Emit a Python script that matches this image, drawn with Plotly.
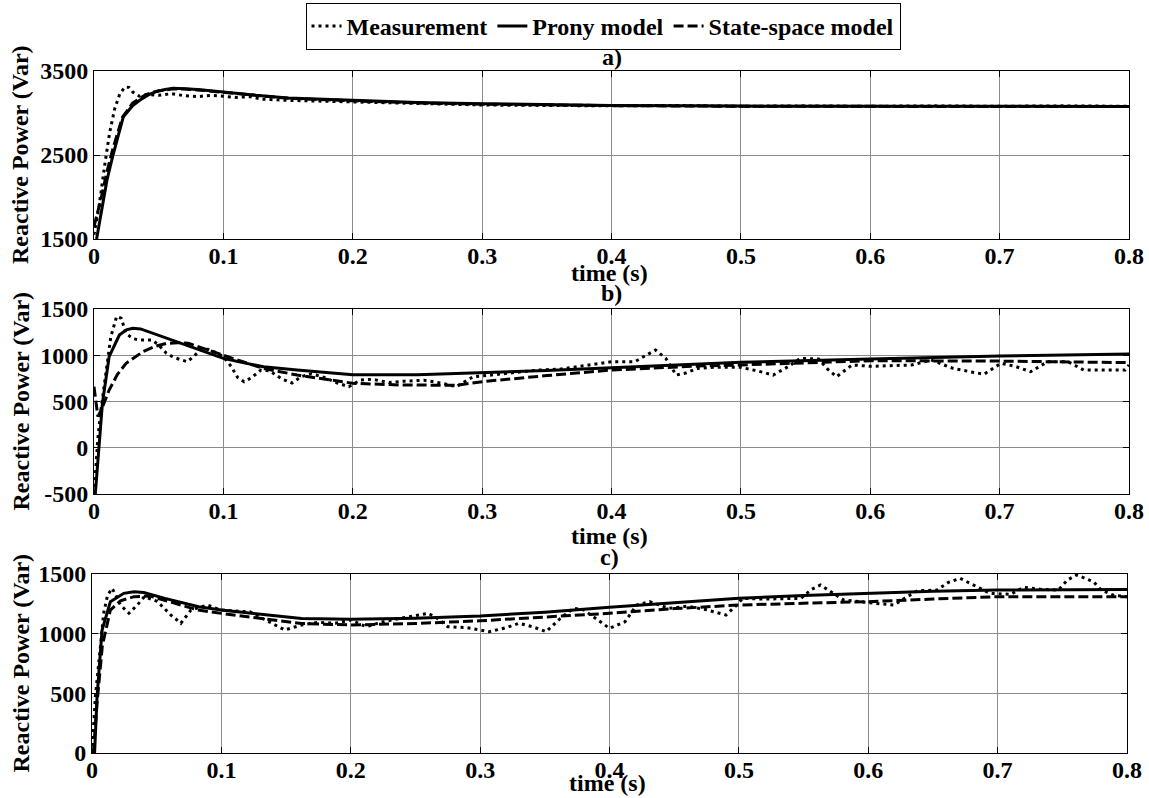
import plotly.graph_objects as go

# ---------------- panel a) ----------------
t_a_meas = [0, 0.004, 0.008, 0.012, 0.016, 0.02, 0.024, 0.027, 0.030, 0.035, 0.042, 0.05,
            0.06, 0.07, 0.08, 0.09, 0.1, 0.11, 0.12, 0.13, 0.15, 0.175, 0.2, 0.25, 0.3,
            0.35, 0.4, 0.45, 0.5, 0.55, 0.6, 0.65, 0.7, 0.75, 0.8]
q_a_meas = [1550, 1900, 2350, 2760, 3050, 3230, 3310, 3305, 3250, 3200, 3220, 3210,
            3230, 3205, 3195, 3210, 3200, 3185, 3195, 3165, 3150, 3140, 3130, 3110, 3095,
            3090, 3085, 3090, 3080, 3085, 3080, 3085, 3080, 3085, 3080]

t_a_prony = [0.002, 0.006, 0.010, 0.0147, 0.0227, 0.03, 0.0356, 0.042, 0.048, 0.055, 0.0613,
             0.07, 0.08, 0.1, 0.125, 0.15, 0.2, 0.25, 0.3, 0.4, 0.5, 0.6, 0.7, 0.8]
q_a_prony = [1500, 1850, 2200, 2500, 2956, 3090, 3155, 3215, 3254, 3280, 3294,
             3290, 3280, 3250, 3210, 3180, 3150, 3125, 3110, 3090, 3082, 3080, 3078, 3078]

t_a_ss = [0, 0.005, 0.01, 0.0147, 0.022, 0.03, 0.04, 0.05, 0.06, 0.07, 0.08, 0.1, 0.125,
          0.15, 0.2, 0.25, 0.3, 0.4, 0.5, 0.6, 0.7, 0.8]
q_a_ss = [1650, 1950, 2300, 2580, 2950, 3120, 3220, 3265, 3285, 3285, 3275, 3245, 3205,
          3175, 3145, 3120, 3105, 3088, 3080, 3078, 3077, 3077]

# ---------------- panel b) ----------------
t_b_meas = [0, 0.003, 0.005, 0.009, 0.013, 0.0175, 0.021, 0.0248, 0.03, 0.0352, 0.045, 0.05,
            0.056, 0.062, 0.069, 0.072, 0.077, 0.082, 0.088, 0.094, 0.1, 0.106, 0.111, 0.116,
            0.122, 0.129, 0.136, 0.145, 0.153, 0.16, 0.168, 0.178, 0.188, 0.197, 0.206, 0.215,
            0.228, 0.24, 0.255, 0.268, 0.28, 0.293, 0.31, 0.325, 0.343, 0.36, 0.38, 0.4, 0.418,
            0.427, 0.434, 0.442, 0.45, 0.458, 0.466, 0.48, 0.5, 0.513, 0.525, 0.537, 0.546,
            0.56, 0.567, 0.574, 0.586, 0.601, 0.632, 0.647, 0.664, 0.678, 0.688, 0.701, 0.712,
            0.724, 0.737, 0.753, 0.765, 0.78, 0.797, 0.8]
q_b_meas = [-500, 100, 372, 800, 1200, 1420, 1400, 1237, 1180, 1165, 1165, 1110,
            1021, 975, 949, 930, 985, 1057, 1065, 1030, 984, 880, 760, 714,
            760, 840, 830, 745, 700, 768, 800, 760, 700, 660, 732, 740,
            705, 720, 730, 700, 660, 768, 790, 810, 840, 850, 890, 930, 930,
            1000, 1057, 966, 786, 810, 858, 870, 869, 830, 786, 880, 967,
            960, 850, 768, 895, 880, 895, 949, 858, 820, 795, 913, 880,
            822, 930, 930, 840, 840, 840, 895]

t_b_prony = [0.001, 0.0065, 0.0117, 0.0196, 0.025, 0.030, 0.036, 0.045, 0.056, 0.07, 0.082,
             0.1, 0.115, 0.131, 0.157, 0.2, 0.25, 0.3, 0.35, 0.4, 0.466, 0.5, 0.6, 0.7, 0.8]
q_b_prony = [-500, 480, 984, 1219, 1275, 1291, 1285, 1240, 1183, 1115, 1057,
             967, 920, 876, 840, 790, 790, 811, 835, 866, 904, 923, 959, 992, 1013]

t_b_ss = [0, 0.003, 0.006, 0.0117, 0.018, 0.0248, 0.0378, 0.048, 0.056, 0.065, 0.073, 0.085,
          0.1, 0.115, 0.131, 0.157, 0.2, 0.236, 0.28, 0.3, 0.35, 0.4, 0.466, 0.5, 0.6, 0.7, 0.8]
q_b_ss = [660, 336, 420, 624, 790, 913, 1038, 1100, 1129, 1135, 1129, 1070,
          1003, 930, 858, 786, 697, 679, 675, 714, 780, 840, 883, 895, 941, 937, 920]

# ---------------- panel c) ----------------
t_c_meas = [0, 0.0026, 0.0065, 0.009, 0.012, 0.0155, 0.019, 0.022, 0.0285, 0.035, 0.0405,
            0.0505, 0.056, 0.061, 0.0687, 0.0765, 0.089, 0.1, 0.11, 0.122, 0.135, 0.149,
            0.162, 0.175, 0.188, 0.2, 0.212, 0.225, 0.238, 0.26, 0.268, 0.275, 0.29, 0.307,
            0.32, 0.33, 0.34, 0.351, 0.362, 0.372, 0.38, 0.39, 0.4, 0.412, 0.421, 0.431,
            0.446, 0.46, 0.475, 0.49, 0.497, 0.503, 0.52, 0.548, 0.556, 0.563, 0.571, 0.581,
            0.6, 0.62, 0.628, 0.638, 0.653, 0.662, 0.671, 0.684, 0.694, 0.71, 0.72, 0.735,
            0.747, 0.754, 0.761, 0.774, 0.78, 0.79, 0.8]
q_c_meas = [0, 472, 891, 1171, 1320, 1380, 1310, 1240, 1171, 1240, 1310,
            1270, 1210, 1156, 1087, 1198, 1240, 1198, 1190, 1184, 1110, 1031,
            1073, 1095, 1087, 1115, 1058, 1100, 1128, 1171, 1120, 1058, 1050, 1017,
            1050, 1087, 1060, 1017, 1128, 1212, 1200, 1120, 1045, 1100, 1240, 1268,
            1212, 1230, 1200, 1156, 1226, 1296, 1290, 1296, 1370, 1408, 1352, 1282,
            1260, 1240, 1296, 1360, 1365, 1430, 1464, 1394, 1338, 1330, 1388, 1370,
            1366, 1450, 1492, 1436, 1366, 1320, 1310]

t_c_prony = [0.002, 0.0039, 0.0078, 0.0142, 0.0246, 0.0324, 0.04, 0.0564, 0.0824, 0.1, 0.136,
             0.162, 0.2, 0.25, 0.3, 0.35, 0.4, 0.45, 0.5, 0.55, 0.6, 0.65, 0.7, 0.75, 0.8]
q_c_prony = [0, 472, 1031, 1268, 1338, 1352, 1345, 1296, 1226, 1198, 1156,
             1128, 1120, 1130, 1148, 1180, 1221, 1260, 1296, 1320, 1338, 1355, 1366, 1370, 1371]

t_c_ss = [0.001, 0.004, 0.008, 0.0142, 0.022, 0.0324, 0.045, 0.06, 0.082, 0.1, 0.13, 0.162,
          0.2, 0.25, 0.3, 0.35, 0.4, 0.45, 0.5, 0.55, 0.6, 0.65, 0.7, 0.75, 0.8]
q_c_ss = [0, 430, 900, 1198, 1275, 1310, 1315, 1270, 1198, 1170, 1130, 1085,
          1073, 1085, 1108, 1140, 1171, 1210, 1240, 1255, 1268, 1290, 1310, 1310, 1310]

x_ticks = [0, 0.1, 0.2, 0.3, 0.4, 0.5, 0.6, 0.7, 0.8]
x_tick_text = ["0", "0.1", "0.2", "0.3", "0.4", "0.5", "0.6", "0.7", "0.8"]
y_ticks_a = [1500, 2500, 3500]
y_ticks_b = [-500, 0, 500, 1000, 1500]
y_ticks_c = [0, 500, 1000, 1500]
series_names = ["Measurement", "Prony model", "State-space model"]
panel_labels = ["a)", "b)", "c)"]

FONT = "Liberation Serif, Times New Roman, serif"
FS = 24
W, H = 1149, 798

styles = [dict(color="black", width=3, dash="3px,4px"),
          dict(color="black", width=3, dash="solid"),
          dict(color="black", width=3, dash="10px,4px")]

panels = [
    (t_a_meas, q_a_meas, t_a_prony, q_a_prony, t_a_ss, q_a_ss, [1500, 3500], y_ticks_a),
    (t_b_meas, q_b_meas, t_b_prony, q_b_prony, t_b_ss, q_b_ss, [-500, 1500], y_ticks_b),
    (t_c_meas, q_c_meas, t_c_prony, q_c_prony, t_c_ss, q_c_ss, [0, 1500], y_ticks_c),
]

# plot-area boxes in pixels: (left, right, top, bottom)
boxes = [(94, 1129, 71, 239), (94, 1129, 309, 494), (92, 1127, 574, 753)]

fig = go.Figure()
layout = {}
for i, (p, box) in enumerate(zip(panels, boxes)):
    tm, qm, tp, qp, ts, qs, yr, yt = p
    xa = "x" if i == 0 else f"x{i+1}"
    ya = "y" if i == 0 else f"y{i+1}"
    for (tt, qq), name, st in zip([(tm, qm), (tp, qp), (ts, qs)], series_names, styles):
        fig.add_trace(go.Scatter(x=tt, y=qq, mode="lines", name=name, line=st,
                                 xaxis=xa, yaxis=ya, showlegend=(i == 0)))
    l, r, t, b = box
    axis_common = dict(showgrid=True, gridcolor="#8c8c8c", gridwidth=1, zeroline=False,
                       showline=True, linecolor="black", linewidth=1, mirror="ticks",
                       ticks="inside", ticklen=6, tickcolor="black", automargin=False,
                       tickfont=dict(family=FONT, size=FS, color="black", weight="bold"))
    layout["xaxis" if i == 0 else f"xaxis{i+1}"] = dict(
        domain=[l / W, r / W], range=[0, 0.8], anchor=ya, ticklabelstandoff=-5,
        tickvals=x_ticks, ticktext=x_tick_text, **axis_common)
    layout["yaxis" if i == 0 else f"yaxis{i+1}"] = dict(
        domain=[1 - b / H, 1 - t / H], range=yr, anchor=xa,
        tickvals=yt, ticktext=[str(v) for v in yt], **axis_common)

fig.update_layout(**layout)

ann_font = dict(family=FONT, size=FS, color="black", weight="bold")
annotations = []
title_y = [57, 293, 557]
xlabel_y = [273, 536, 783]
for i, box in enumerate(boxes):
    l, r, t, b = box
    cx = (l + r) / 2 / W
    annotations.append(dict(text=panel_labels[i], x=cx, y=1 - title_y[i] / H, xref="paper",
                            yref="paper", showarrow=False, xanchor="center", yanchor="middle",
                            font=ann_font))
    annotations.append(dict(text="time (s)", x=cx - 2 / W, y=1 - xlabel_y[i] / H, xref="paper",
                            yref="paper", showarrow=False, xanchor="center", yanchor="middle",
                            font=ann_font))
    annotations.append(dict(text="Reactive Power (Var)", x=20 / W, y=1 - (t + b) / 2 / H,
                            xref="paper", yref="paper", showarrow=False, textangle=-90,
                            xanchor="center", yanchor="middle", font=ann_font))

fig.update_layout(
    width=W, height=H,
    margin=dict(l=0, r=0, t=0, b=0, pad=0, autoexpand=False),
    paper_bgcolor="white", plot_bgcolor="white",
    annotations=annotations,
    legend=dict(orientation="h", x=603 / W, xanchor="center", y=1 - 3 / H, yanchor="top",
                bordercolor="black", borderwidth=1, bgcolor="white",
                font=dict(family=FONT, size=FS, color="black", weight="bold"),
                itemwidth=30, tracegroupgap=0),
)

fig.write_html("out.html")
